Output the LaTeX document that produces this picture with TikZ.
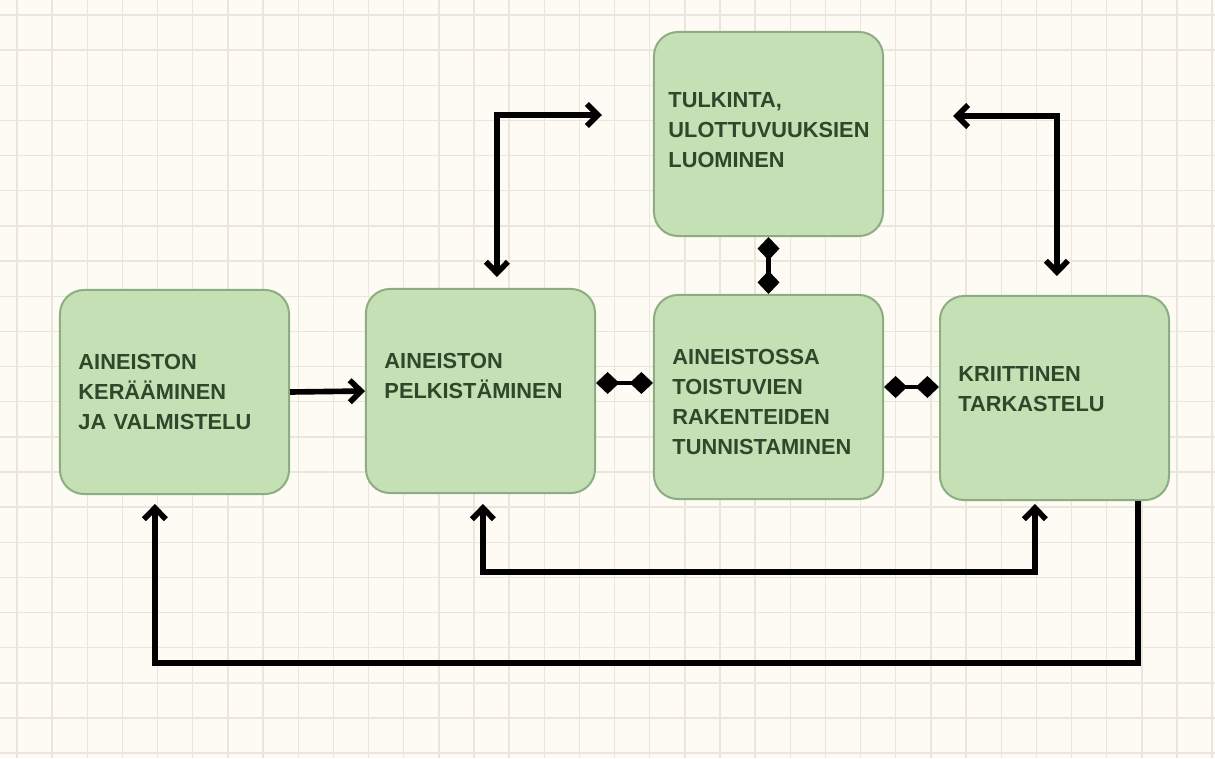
\documentclass[tikz,border=0pt]{standalone}
\usepackage{fontspec}
\setmainfont{Liberation Sans}
\usepackage{tikz}
\usetikzlibrary{
    positioning,
    arrows.meta,
    calc
}
\definecolor{paperBg}{RGB}{253, 251, 244}
\definecolor{gridLine}{RGB}{234, 230, 220}
\definecolor{boxFill}{RGB}{197, 224, 180}
\definecolor{boxEdge}{RGB}{140, 172, 130}
\definecolor{boxText}{RGB}{45, 72, 42}

\begin{document}
\begin{tikzpicture}[x=0.025cm, y=-0.025cm, >={Straight Barb[length=2.8mm, width=5.5mm]},
    vaihe/.style={draw=boxEdge, line width=1.4pt, fill=boxFill, rounded corners=0.6cm,
        minimum width=5.725cm, minimum height=5.1cm, text width=4.8cm, inner xsep=0.45cm,
        align=left, text=boxText, font=\fontsize{15.5}{21.3}\selectfont\bfseries},
    nuoli/.style={line width=4pt, black},
    kytkin/.style={line width=3.2pt, black, {Diamond[length=5.8mm, width=5.5mm]}-{Diamond[length=5.8mm, width=5.5mm]}}]
            \useasboundingbox (0,0) rectangle (1215,758);
            \fill[paperBg] (0,0) rectangle (1215,758);
            \foreach \i in {0,...,34} \draw[gridLine, line width=1pt] ({17+35.15*\i},0) -- ({17+35.15*\i},758);
            \foreach \j in {0,...,21} \draw[gridLine, line width=1pt] (0,{15+35.15*\j}) -- (1215,{15+35.15*\j});
            
            \node[vaihe] (keraa) at (174.5,392) {AINEISTON\\KERÄÄMINEN\\JA VALMISTELU};
            \node[vaihe, text depth=1.5cm] (pelk) at (480.5,391) {AINEISTON\\PELKISTÄMINEN};
            \node[vaihe, text depth=2.0cm] (tunn) at (768.5,397) {AINEISTOSSA\\TOISTUVIEN\\RAKENTEIDEN\\TUNNISTAMINEN};
            \node[vaihe, text depth=1.2cm] (krit) at (1054.5,398) {KRIITTINEN\\TARKASTELU};
            \node[vaihe, text width=5cm, inner xsep=0.35cm, text depth=1.7cm] (tulk) at (768.5,134) {TULKINTA,\\ULOTTUVUUKSIEN\\LUOMINEN};
            
            \coordinate (ylaV) at (602,115); % vapaa paa vasemmalla
            \coordinate (ylaO) at (953,116); % vapaa paa oikealla
            
            \draw[nuoli, ->] (keraa.east) -- (pelk.west);
            \draw[kytkin] ([yshift=0.2cm]pelk.east) -- ([yshift=0.2cm]pelk.east -| tunn.west);
            \draw[kytkin] ([yshift=0.25cm]tunn.east) -- ([yshift=0.25cm]tunn.east -| krit.west);
            \draw[kytkin] (tulk.south) -- (tunn.north);
            
            \draw[nuoli, <->] (ylaV) -| ([xshift=0.41cm, yshift=0.275cm]pelk.north);
            \draw[nuoli, <->] (ylaO) -| ([xshift=0.06cm, yshift=0.475cm]krit.north);
            
            \draw[nuoli, <->] ([xshift=0.06cm, yshift=-0.25cm]pelk.south) |- ([xshift=-0.49cm, yshift=-1.775cm]krit.south) -- ([xshift=-0.49cm, yshift=-0.075cm]krit.south);
            \draw[nuoli, ->] ([xshift=2.09cm]krit.south) -- ++(0,162) -| ([xshift=-0.49cm, yshift=-0.225cm]keraa.south);
        \end{tikzpicture}
\end{document}
